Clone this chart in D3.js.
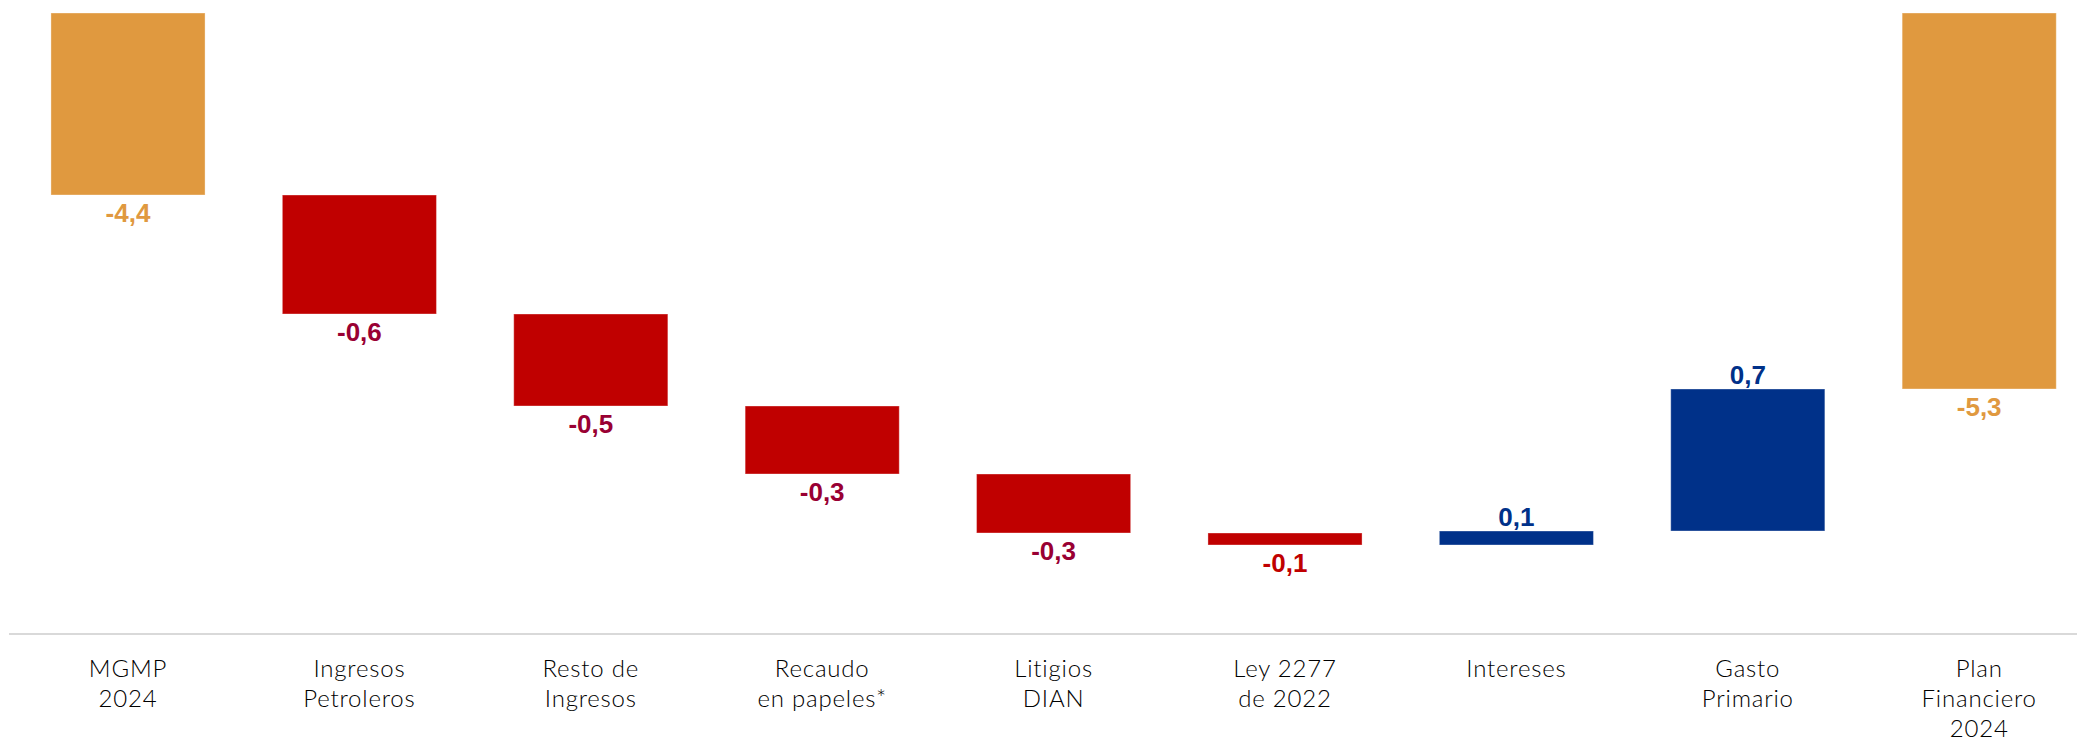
<!DOCTYPE html>
<html lang="es">
<head>
    <meta charset="UTF-8">
    <title>Cambio en el balance fiscal</title>
    <script src="https://d3js.org/d3.v7.min.js"></script>
    <style>
        body { margin: 0; background: #fff; }
        .cat { font-family: "Century Gothic", "URW Gothic", "Lato", "DejaVu Sans", sans-serif; font-weight: 300; font-size: 24px; letter-spacing: 0.8px; fill: #000; }
        .val { font-family: "Liberation Sans", Arial, sans-serif; font-weight: bold; font-size: 26px; }
    </style>
</head>
<body>
<script>
    // categorias (lineas de cada etiqueta)
    var categories = [
        ["MGMP", "2024"],
        ["Ingresos", "Petroleros"],
        ["Resto de", "Ingresos"],
        ["Recaudo", "en papeles*"],
        ["Litigios", "DIAN"],
        ["Ley 2277", "de 2022"],
        ["Intereses"],
        ["Gasto", "Primario"],
        ["Plan", "Financiero", "2024"]
    ];
    // % del PIB
    var values = [-4.36, -0.595, -0.46, -0.34, -0.295, -0.06, 0.07, 0.71, -5.33];
    var labels = ["-4,4", "-0,6", "-0,5", "-0,3", "-0,3", "-0,1", "0,1", "0,7", "-5,3"];
    var kinds = ["total", "step", "step", "step", "step", "step", "step", "step", "total"];
    var yDomain = [-6.555, -3.45];

    var width = 2077, height = 737;

    var svg = d3.select("body").append("svg")
        .attr("width", width)
        .attr("height", height);

    var x = d3.scaleBand()
        .domain(d3.range(categories.length))
        .range([12.3, 2094.9])
        .paddingInner(0.334)
        .paddingOuter(0.167);

    var y = d3.scaleLinear()
        .domain(yDomain)
        .range([634, 13]);

    // acumulado para la cascada
    var run = 0;
    var bars = values.map(function (v, i) {
        var d = { i: i, v: v, label: labels[i], kind: kinds[i] };
        if (d.kind == "total") {
            d.start = yDomain[1];
            d.end = v;
            run = v;
        } else {
            d.start = run;
            d.end = run + v;
            run = d.end;
        }
        return d;
    });

    function fill(d) {
        if (d.kind == "total") return "#E0993F";
        return d.v < 0 ? "#C00000" : "#003189";
    }
    function labelColor(d) {
        if (d.kind == "total") return "#E0993F";
        if (d.v > 0) return "#003189";
        return d.v > -0.1 ? "#C00000" : "#990033";
    }

    svg.append("g")
        .selectAll("rect")
        .data(bars)
        .enter().append("rect")
        .attr("x", function (d) { return x(d.i); })
        .attr("width", x.bandwidth())
        .attr("y", function (d) { return y(Math.max(d.start, d.end)); })
        .attr("height", function (d) { return Math.abs(y(d.start) - y(d.end)); })
        .attr("fill", fill)
        .attr("stroke", "#fff")
        .attr("stroke-opacity", 0.35)
        .attr("stroke-width", 1);

    svg.append("g")
        .selectAll("text")
        .data(bars)
        .enter().append("text")
        .attr("class", "val")
        .attr("text-anchor", "middle")
        .attr("x", function (d) { return x(d.i) + x.bandwidth() / 2; })
        .attr("y", function (d) {
            var lo = Math.min(d.start, d.end), hi = Math.max(d.start, d.end);
            if (d.kind != "total" && d.v > 0) return y(hi) - 5;
            return y(lo) + 27;
        })
        .attr("fill", labelColor)
        .text(function (d) { return d.label; });

    // eje horizontal
    svg.append("line")
        .attr("x1", 9).attr("x2", width)
        .attr("y1", 634).attr("y2", 634)
        .attr("stroke", "#d9d9d9")
        .attr("stroke-width", 2);

    var cat = svg.append("g")
        .selectAll("text")
        .data(categories)
        .enter().append("text")
        .attr("class", "cat")
        .attr("text-anchor", "middle")
        .attr("x", function (d, i) { return x(i) + x.bandwidth() / 2; })
        .attr("y", 677);

    cat.selectAll("tspan")
        .data(function (d) { return d; })
        .enter().append("tspan")
        .attr("x", function () { return d3.select(this.parentNode).attr("x"); })
        .attr("dy", function (d, j) { return j == 0 ? 0 : 30; })
        .text(function (d) { return d; });
</script>
</body>
</html>
